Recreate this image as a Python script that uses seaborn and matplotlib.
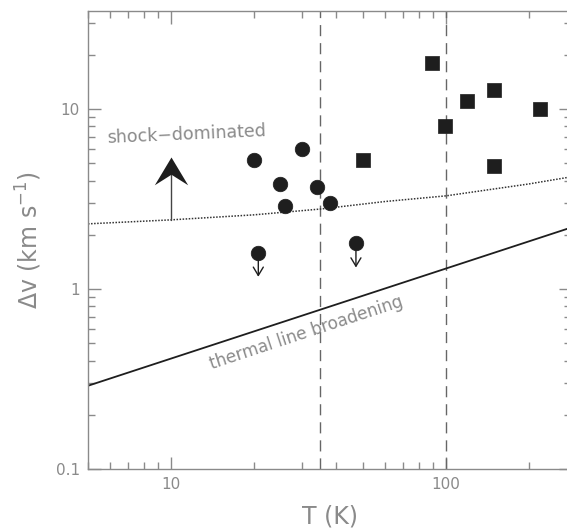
import matplotlib
matplotlib.use("Agg")
import matplotlib.pyplot as plt
from matplotlib.path import Path
import seaborn as sns
import pandas as pd

# detections at low temperature (circles)
circ_T = [20.0, 29.9, 24.9, 34.0, 26.1, 37.9]
circ_dv = [5.2, 6.0, 3.82, 3.70, 2.89, 3.01]
# upper limits (circles with down arrows)
lim_T = [20.8, 47.1]
lim_dv = [1.59, 1.79]
# warm sources (squares)
sq_T = [89.3, 119, 149, 219, 99.4, 149, 49.9]
sq_dv = [18.1, 11.1, 12.8, 10.0, 8.05, 4.82, 5.2]

# thermal broadening line and shock-dominated boundary
therm_T = [5, 300]
therm_dv = [0.29, 2.25]
shock_T = [5, 10, 20, 35, 60, 100, 200, 300]
shock_dv = [2.30, 2.42, 2.58, 2.78, 3.06, 3.29, 3.83, 4.25]

# the "shock-dominated" arrow
arrow_T = 10
arrow_dv = [2.42, 5.4]

vlines_T = [35, 100]
xtick_vals = [10, 100]
xtick_labels = ['10', '100']
ytick_vals = [0.1, 1, 10]
ytick_labels = ['0.1', '1', '10']

sns.set_style("ticks")
plt.rcParams['font.family'] = ['DejaVu Sans']
gray = '#8a8a8a'
ink = '#1e1e1e'

fig = plt.figure(figsize=(5.67, 5.31), dpi=100)
ax = fig.add_axes([88 / 567, 62 / 531, 483 / 567, 458 / 531])
ax.set_xscale('log')
ax.set_yscale('log')

for t in vlines_T:
    ax.axvline(t, color='#666666', lw=1.0, ls=(0, (8, 5)), zorder=1)

sns.lineplot(x=therm_T, y=therm_dv, ax=ax, color=ink, lw=1.3, zorder=2)
sns.lineplot(x=shock_T, y=shock_dv, ax=ax, color='#333333', lw=1.1,
             ls=(0, (1, 1)), zorder=2)

for t, v in zip(lim_T, lim_dv):
    ax.annotate('', xy=(t, v * 0.735), xytext=(t, v),
                arrowprops=dict(arrowstyle='->,head_length=0.3,head_width=0.18',
                                color=ink, lw=1.0, shrinkA=0, shrinkB=0,
                                mutation_scale=20), zorder=2)

circles = pd.DataFrame({'T': circ_T + lim_T, 'dv': circ_dv + lim_dv})
squares = pd.DataFrame({'T': sq_T, 'dv': sq_dv})
sns.scatterplot(data=circles, x='T', y='dv', ax=ax, marker='o', s=110,
                color=ink, edgecolor=ink, linewidth=0.5, zorder=4)
sns.scatterplot(data=squares, x='T', y='dv', ax=ax, marker='s', s=90,
                color=ink, edgecolor=ink, linewidth=0.5, zorder=4)

# shock-dominated arrow: thin shaft + chevron head (tip at path origin)
chevron = Path([(0, 0), (0.6, -1), (0, -0.62), (-0.6, -1), (0, 0)],
               [Path.MOVETO, Path.LINETO, Path.LINETO, Path.LINETO, Path.CLOSEPOLY])
ax.plot([arrow_T, arrow_T], [arrow_dv[0], arrow_dv[1] * 0.93], color='#444444',
        lw=1.0, zorder=3)
ax.plot([arrow_T], [arrow_dv[1]], marker=chevron, markersize=40, color=ink,
        markeredgewidth=0, zorder=3)

ax.text(11.4, 7.17, 'shock\u2212dominated', color=gray, fontsize=12.5,
        ha='center', va='center', rotation=2.5)
ax.text(31.0, 0.573, 'thermal line broadening', color=gray, fontsize=12.2,
        ha='center', va='center', rotation=18.2)

ax.set_xlim(5, 285)
ax.set_ylim(0.1, 35)
ax.set_xticks(xtick_vals)
ax.set_xticklabels(xtick_labels)
ax.set_yticks(ytick_vals)
ax.set_yticklabels(ytick_labels)
ax.xaxis.set_minor_formatter(matplotlib.ticker.NullFormatter())
ax.yaxis.set_minor_formatter(matplotlib.ticker.NullFormatter())

ax.tick_params(which='both', direction='in', top=True, right=True,
               color=gray, labelcolor=gray, labelsize=11, width=1.0, pad=6)
ax.tick_params(which='major', length=9)
ax.tick_params(which='minor', length=5)
for sp in ax.spines.values():
    sp.set_color(gray)
    sp.set_linewidth(1.0)

ax.set_xlabel('T (K)', color=gray, fontsize=17, labelpad=9)
ax.set_ylabel(r'$\Delta$v (km s$^{-1}$)', color=gray, fontsize=17, labelpad=8)

fig.savefig('out.png', dpi=100)
